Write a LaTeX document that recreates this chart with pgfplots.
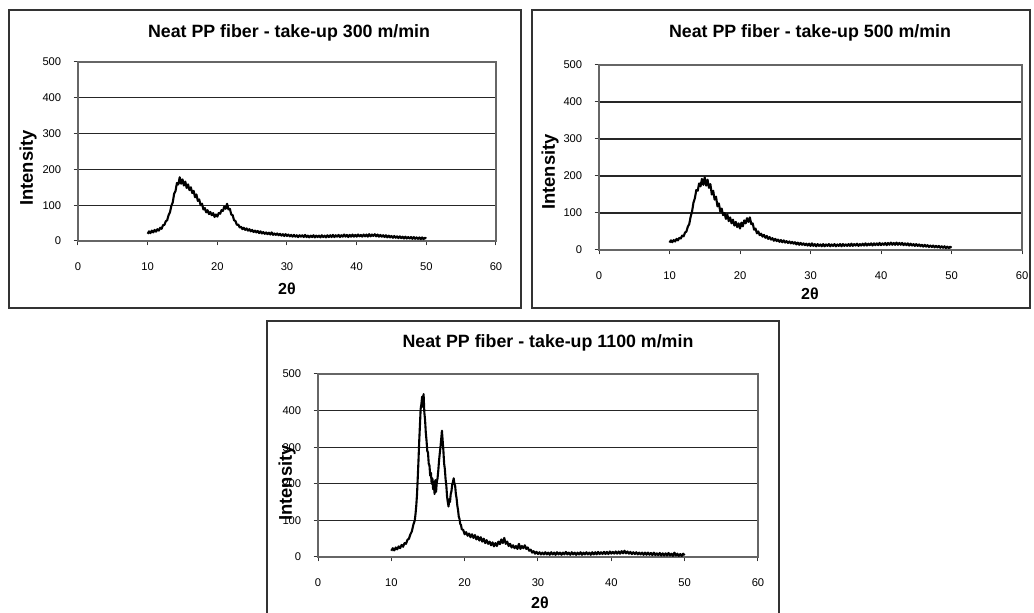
\documentclass[border=0pt]{standalone}
\usepackage{fontspec}
\setmainfont{Liberation Sans}
\usepackage{pgfplots}
\pgfplotsset{compat=1.18}

% one picture pixel = 0.5pt
\pgfplotsset{
  xrdpanel/.style={
    scale only axis,
    anchor=south west,
    xmin=0, xmax=60, ymin=0, ymax=500,
    xtick={0,10,...,60}, ytick={0,100,...,500},
    xtick pos=bottom, ytick pos=left,
    tick align=outside, major tick length=2.2pt,
    tick style={black!80, line width=0.5pt},
    axis line style={black!60, line width=0.6pt},
    ymajorgrids, grid style={black!85, line width=0.6pt},
    /pgf/number format/assume math mode=true,
    ticklabel style={font=\fontsize{5.6}{6}\selectfont, inner sep=0pt},
    xticklabel style={yshift=-8.2pt},
    yticklabel style={xshift=-6pt},
  },
  xrdline/.style={black, line width=1.05pt, line join=round, no markers},
}

\begin{document}
\begin{tikzpicture}
\useasboundingbox (0,0) rectangle (517pt,306.5pt);
\fill[white] (0,0) rectangle (517pt,306.5pt);

% panel frames
\draw[black!80, line width=0.8pt] (4.5pt,152.5pt) rectangle (260.5pt,301.5pt);
\draw[black!80, line width=0.8pt] (266pt,152.5pt) rectangle (515pt,301.5pt);
\draw[black!80, line width=0.8pt] (133.5pt,-10pt) rectangle (389.5pt,146pt);

% ---------------- 300 m/min
\begin{axis}[xrdpanel, at={(39pt,186pt)}, width=209pt, height=89.5pt]
\addplot[xrdline] coordinates {
(10.0,20)(10.2,27)(10.4,22)(10.6,29)(10.8,24)(11.0,31)(11.2,26)(11.4,33)(11.6,29)(11.8,37)
(12.0,34)(12.2,44)(12.4,45)(12.6,55)(12.8,58)(13.0,72)(13.2,80)(13.4,98)(13.6,108)(13.8,132)
(14.0,140)(14.2,162)(14.4,158)(14.6,178)(14.8,160)(15.0,172)(15.2,155)(15.4,166)(15.6,148)(15.8,158)
(16.0,142)(16.2,150)(16.4,134)(16.6,140)(16.8,122)(17.0,130)(17.2,112)(17.4,116)(17.6,100)(17.8,104)
(18.0,88)(18.2,92)(18.4,80)(18.6,86)(18.8,75)(19.0,81)(19.2,72)(19.4,78)(19.6,67)(19.8,74)
(20.0,68)(20.2,78)(20.4,76)(20.6,86)(20.8,84)(21.0,96)(21.2,90)(21.4,104)(21.6,88)(21.8,90)
(22.0,74)(22.2,72)(22.4,58)(22.6,56)(22.8,45)(23.0,46)(23.2,38)(23.4,40)(23.6,33)(23.8,37)
(24.0,31)(24.2,35)(24.4,29)(24.6,33)(24.8,27)(25.0,31)(25.2,25)(25.4,29)(25.6,24)(25.8,28)
(26.0,22)(26.2,27)(26.4,21)(26.6,25)(26.8,20)(27.0,24)(27.2,19)(27.4,23)(27.6,18)(27.8,24)
(28.0,17)(28.2,21)(28.4,17)(28.6,21)(28.8,16)(29.0,20)(29.2,15)(29.4,19)(29.6,14)(29.8,19)
(30.0,14)(30.2,18)(30.4,13)(30.6,17)(30.8,12)(31.0,17)(31.2,12)(31.4,16)(31.6,11)(31.8,16)
(32.0,12)(32.2,16)(32.4,11)(32.6,17)(32.8,11)(33.0,15)(33.2,10)(33.4,15)(33.6,11)(33.8,16)
(34.0,10)(34.2,15)(34.4,11)(34.6,15)(34.8,10)(35.0,16)(35.2,11)(35.4,15)(35.6,10)(35.8,16)
(36.0,11)(36.2,16)(36.4,11)(36.6,17)(36.8,11)(37.0,16)(37.2,12)(37.4,17)(37.6,11)(37.8,16)
(38.0,12)(38.2,18)(38.4,12)(38.6,17)(38.8,11)(39.0,17)(39.2,12)(39.4,18)(39.6,12)(39.8,17)
(40.0,12)(40.2,18)(40.4,13)(40.6,17)(40.8,12)(41.0,18)(41.2,13)(41.4,18)(41.6,12)(41.8,19)
(42.0,13)(42.2,18)(42.4,14)(42.6,19)(42.8,13)(43.0,18)(43.2,12)(43.4,17)(43.6,12)(43.8,16)
(44.0,11)(44.2,16)(44.4,10)(44.6,15)(44.8,10)(45.0,14)(45.2,9)(45.4,14)(45.6,9)(45.8,13)
(46.0,8)(46.2,13)(46.4,8)(46.6,12)(46.8,7)(47.0,12)(47.2,7)(47.4,11)(47.6,7)(47.8,11)
(48.0,6)(48.2,11)(48.4,6)(48.6,10)(48.8,6)(49.0,10)(49.2,5)(49.4,10)(49.6,5)(49.8,9)(50.0,7)
};
\end{axis}

% ---------------- 500 m/min
\begin{axis}[xrdpanel, at={(299.5pt,181.5pt)}, width=211.5pt, height=92.5pt]
\addplot[xrdline] coordinates {
(10.0,20)(10.2,26)(10.4,21)(10.6,27)(10.8,23)(11.0,30)(11.2,26)(11.4,33)(11.6,31)(11.8,39)
(12.0,37)(12.2,47)(12.4,50)(12.6,63)(12.8,70)(13.0,90)(13.2,104)(13.4,128)(13.6,140)(13.8,162)
(14.0,160)(14.2,180)(14.4,172)(14.6,192)(14.8,176)(15.0,196)(15.2,174)(15.4,190)(15.6,168)(15.8,178)
(16.0,150)(16.2,160)(16.4,136)(16.6,144)(16.8,118)(17.0,126)(17.2,104)(17.4,112)(17.6,94)(17.8,100)
(18.0,84)(18.2,96)(18.4,78)(18.6,88)(18.8,72)(19.0,82)(19.2,66)(19.4,76)(19.6,62)(19.8,72)
(20.0,58)(20.2,74)(20.4,64)(20.6,80)(20.8,72)(21.0,86)(21.2,76)(21.4,88)(21.6,70)(21.8,72)
(22.0,55)(22.2,58)(22.4,45)(22.6,50)(22.8,40)(23.0,44)(23.2,36)(23.4,41)(23.6,33)(23.8,38)
(24.0,30)(24.2,35)(24.4,28)(24.6,32)(24.8,25)(25.0,30)(25.2,24)(25.4,28)(25.6,22)(25.8,27)
(26.0,21)(26.2,26)(26.4,20)(26.6,24)(26.8,19)(27.0,23)(27.2,18)(27.4,22)(27.6,17)(27.8,21)
(28.0,15)(28.2,20)(28.4,14)(28.6,19)(28.8,14)(29.0,18)(29.2,13)(29.4,17)(29.6,12)(29.8,17)
(30.0,11)(30.2,18)(30.4,11)(30.6,16)(30.8,10)(31.0,16)(31.2,11)(31.4,15)(31.6,10)(31.8,16)
(32.0,10)(32.2,15)(32.4,11)(32.6,16)(32.8,10)(33.0,15)(33.2,11)(33.4,16)(33.6,10)(33.8,15)
(34.0,11)(34.2,16)(34.4,10)(34.6,16)(34.8,11)(35.0,15)(35.2,11)(35.4,16)(35.6,11)(35.8,17)
(36.0,11)(36.2,16)(36.4,12)(36.6,17)(36.8,11)(37.0,16)(37.2,12)(37.4,17)(37.6,12)(37.8,18)
(38.0,12)(38.2,17)(38.4,13)(38.6,18)(38.8,12)(39.0,18)(39.2,13)(39.4,18)(39.6,13)(39.8,19)
(40.0,13)(40.2,18)(40.4,14)(40.6,19)(40.8,13)(41.0,19)(41.2,14)(41.4,20)(41.6,14)(41.8,19)
(42.0,14)(42.2,20)(42.4,14)(42.6,19)(42.8,14)(43.0,19)(43.2,13)(43.4,18)(43.6,13)(43.8,18)
(44.0,12)(44.2,17)(44.4,12)(44.6,16)(44.8,11)(45.0,16)(45.2,11)(45.4,15)(45.6,10)(45.8,14)
(46.0,9)(46.2,14)(46.4,9)(46.6,13)(46.8,8)(47.0,12)(47.2,8)(47.4,12)(47.6,7)(47.8,11)
(48.0,7)(48.2,11)(48.4,6)(48.6,10)(48.8,6)(49.0,10)(49.2,5)(49.4,9)(49.6,5)(49.8,9)(50.0,6)
};
\end{axis}

% ---------------- 1100 m/min
\begin{axis}[xrdpanel, at={(159pt,28pt)}, width=220pt, height=91.5pt]
\addplot[xrdline] coordinates {
(10.0,17)(10.2,24)(10.4,18)(10.6,26)(10.8,21)(11.0,29)(11.2,24)(11.4,33)(11.6,28)(11.8,38)
(12.0,36)(12.2,47)(12.4,50)(12.6,62)(12.8,70)(13.0,88)(13.2,100)
(13.3,118)(13.4,140)(13.5,170)(13.6,215)(13.7,262)(13.8,315)(13.9,360)(14.0,405)(14.1,418)
(14.2,438)(14.3,410)(14.4,445)(14.5,395)(14.6,375)(14.7,340)(14.8,318)(14.9,290)(15.0,285)
(15.1,255)(15.2,250)(15.3,222)(15.4,230)(15.5,200)(15.6,215)(15.7,185)(15.8,205)(15.9,172)
(16.0,210)(16.1,178)(16.2,205)(16.3,215)(16.4,235)(16.5,262)(16.6,282)(16.7,300)(16.8,322)
(16.9,345)(17.0,318)(17.1,290)(17.2,255)(17.3,240)(17.4,212)(17.5,195)(17.6,165)(17.7,150)
(17.8,138)(17.9,158)(18.0,150)(18.1,172)(18.2,180)(18.3,198)(18.4,205)(18.5,215)(18.6,200)
(18.7,195)(18.8,172)(18.9,160)(19.0,140)(19.1,128)(19.2,110)(19.3,104)(19.4,90)(19.5,88)(19.6,76)
(19.8,74)(20.0,62)(20.2,68)(20.4,58)(20.6,64)(20.8,54)(21.0,62)(21.2,52)(21.4,60)(21.6,48)
(21.8,56)(22.0,45)(22.2,54)(22.4,42)(22.6,50)(22.8,38)(23.0,46)(23.2,36)(23.4,42)(23.6,32)
(23.8,40)(24.0,29)(24.2,38)(24.4,30)(24.6,42)(24.8,35)(25.0,48)(25.2,38)(25.4,52)(25.6,36)
(25.8,42)(26.0,30)(26.2,36)(26.4,26)(26.6,32)(26.8,24)(27.0,30)(27.2,22)(27.4,36)(27.6,22)
(27.8,30)(28.0,24)(28.2,32)(28.4,22)(28.6,26)(28.8,17)(29.0,20)(29.2,12)(29.4,16)(29.6,9)
(29.8,14)(30.0,8)(30.2,13)(30.4,7)(30.6,12)(30.8,7)(31.0,13)(31.2,7)(31.4,12)(31.6,6)
(31.8,13)(32.0,7)(32.2,12)(32.4,6)(32.6,13)(32.8,7)(33.0,12)(33.2,6)(33.4,12)(33.6,7)
(33.8,14)(34.0,7)(34.2,12)(34.4,6)(34.6,13)(34.8,7)(35.0,12)(35.2,6)(35.4,12)(35.6,7)
(35.8,13)(36.0,6)(36.2,12)(36.4,7)(36.6,13)(36.8,7)(37.0,12)(37.2,6)(37.4,13)(37.6,7)
(37.8,13)(38.0,7)(38.2,14)(38.4,8)(38.6,13)(38.8,8)(39.0,14)(39.2,8)(39.4,14)(39.6,8)
(39.8,15)(40.0,9)(40.2,14)(40.4,9)(40.6,15)(40.8,9)(41.0,15)(41.2,9)(41.4,16)(41.6,10)
(41.8,17)(42.0,10)(42.2,15)(42.4,9)(42.6,14)(42.8,8)(43.0,13)(43.2,8)(43.4,13)(43.6,7)
(43.8,12)(44.0,7)(44.2,12)(44.4,6)(44.6,12)(44.8,6)(45.0,12)(45.2,6)(45.4,11)(45.6,5)
(45.8,12)(46.0,5)(46.2,10)(46.4,5)(46.6,11)(46.8,4)(47.0,10)(47.2,4)(47.4,10)(47.6,4)
(47.8,11)(48.0,4)(48.2,9)(48.4,3)(48.6,12)(48.8,4)(49.0,9)(49.2,3)(49.4,8)(49.6,3)(49.8,9)(50.0,5)
};
\end{axis}

% titles and axis titles
\begin{scope}[every node/.style={inner sep=0pt, font=\bfseries\fontsize{8.9}{10}\selectfont}]
\node at (144.5pt,290pt) {Neat PP fiber - take-up 300 m/min};
\node at (405pt,290pt) {Neat PP fiber - take-up 500 m/min};
\node at (274pt,135pt) {Neat PP fiber - take-up 1100 m/min};
\end{scope}
\begin{scope}[every node/.style={inner sep=0pt, font=\bfseries\fontsize{9.2}{10}\selectfont}]
\node[rotate=90] at (14pt,222.5pt) {Intensity};
\node[rotate=90] at (275pt,220.5pt) {Intensity};
\node[rotate=90] at (143.5pt,65pt) {Intensity};
\end{scope}
\begin{scope}[every node/.style={inner sep=0pt, font=\bfseries\fontsize{8}{9}\selectfont}]
\node at (143.5pt,162pt) {2θ};
\node at (405pt,159.5pt) {2θ};
\node at (270pt,5pt) {2θ};
\end{scope}
\end{tikzpicture}
\end{document}
